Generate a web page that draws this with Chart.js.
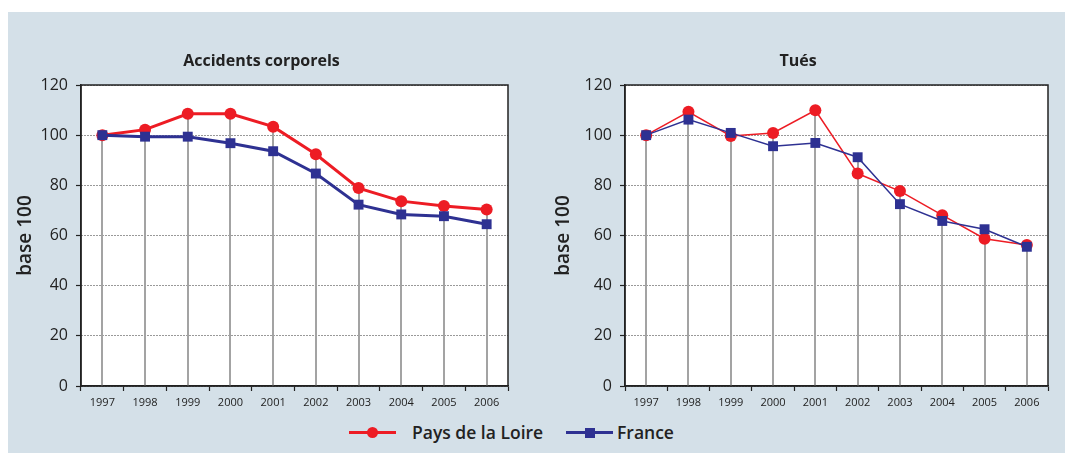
<!DOCTYPE html>
<html><head><meta charset="utf-8">
<script src="https://cdn.jsdelivr.net/npm/chart.js@4/dist/chart.umd.min.js"></script>
<style>
html,body{margin:0;padding:0;background:#fff;width:1065px;height:453px;overflow:hidden;font-family:"Open Sans",sans-serif;}
#bg{position:absolute;left:8px;top:12px;width:1057px;height:441px;background:#d4e0e8;}
#c1{position:absolute;left:0;top:0;}
#c2{position:absolute;left:530px;top:0;}
.leg{position:absolute;top:420px;height:24px;font-size:17.5px;font-weight:600;color:#222;line-height:24px;}
.ln{position:absolute;top:10.5px;height:3px;width:47px;}
.mk{position:absolute;}
</style></head>
<body>
<div id="bg"></div>
<canvas id="c1" width="530" height="420" style="width:530px;height:420px"></canvas>
<canvas id="c2" width="535" height="420" style="width:535px;height:420px"></canvas>
<div class="leg" style="left:349px;width:220px;">
  <div class="ln" style="left:0;background:#ed1c24;"></div>
  <div class="mk" style="left:18px;top:7px;width:11px;height:11px;border-radius:50%;background:#ed1c24;"></div>
  <span style="position:absolute;left:63px;white-space:nowrap;">Pays de la Loire</span>
</div>
<div class="leg" style="left:566px;width:120px;">
  <div class="ln" style="left:0;background:#2e3192;"></div>
  <div class="mk" style="left:19px;top:7.5px;width:10px;height:10px;background:#2e3192;"></div>
  <span style="position:absolute;left:51px;">France</span>
</div>
<script>
const years = ['1997','1998','1999','2000','2001','2002','2003','2004','2005','2006'];
const accidentsPdl = [100, 102.2, 108.5, 108.5, 103.4, 92.4, 78.9, 73.7, 71.8, 70.4];
const accidentsFrance = [100, 99.4, 99.4, 96.8, 93.6, 84.7, 72.3, 68.4, 67.7, 64.5];
const tuesPdl = [100, 109.3, 99.7, 100.9, 109.9, 84.7, 77.7, 68.1, 58.7, 56.2];
const tuesFrance = [100, 106.2, 100.9, 95.6, 96.9, 91.2, 72.5, 65.8, 62.5, 55.5];
const yTicks = [0, 20, 40, 60, 80, 100, 120];
const seriesNames = ['Pays de la Loire', 'France'];

const RED = '#ed1c24', BLUE = '#2e3192', INK = '#222';

const framePlugin = {
  id: 'frame',
  beforeDraw(chart) {
    const a = chart.chartArea, ctx = chart.ctx;
    ctx.save(); ctx.fillStyle = '#fff';
    ctx.fillRect(a.left, a.top, a.right - a.left, a.bottom - a.top);
    ctx.restore();
  },
  beforeDatasetsDraw(chart) {
    const ctx = chart.ctx, a = chart.chartArea;
    const metas = chart.data.datasets.map((d, i) => chart.getDatasetMeta(i));
    ctx.save();
    ctx.strokeStyle = '#a3a3a3'; ctx.lineWidth = 2;
    metas[0].data.forEach((pt, j) => {
      let top = Math.min(...metas.map(m => m.data[j].y));
      ctx.beginPath(); ctx.moveTo(Math.round(pt.x), a.bottom); ctx.lineTo(Math.round(pt.x), top); ctx.stroke();
    });
    ctx.restore();
  },
  afterDraw(chart) {
    const a = chart.chartArea, ctx = chart.ctx;
    ctx.save(); ctx.strokeStyle = INK; ctx.lineWidth = 1.5; ctx.setLineDash([]);
    ctx.beginPath();
    ctx.moveTo(a.left, a.top); ctx.lineTo(a.right, a.top); ctx.lineTo(a.right, a.bottom);
    ctx.moveTo(a.left, a.top); ctx.lineTo(a.left, a.bottom); ctx.lineTo(a.right, a.bottom);
    ctx.stroke(); ctx.restore();
  }
};

function makeChart(id, title, pdl, fr, o) {
  new Chart(document.getElementById(id), {
    type: 'line',
    data: {
      labels: years,
      datasets: [
        { label: seriesNames[1], data: fr, borderColor: BLUE, backgroundColor: BLUE, borderWidth: o.lw,
          pointStyle: 'rect', pointRadius: 7, pointBorderWidth: 0, tension: 0 },
        { label: seriesNames[0], data: pdl, borderColor: RED, backgroundColor: RED, borderWidth: o.lw,
          pointStyle: 'circle', pointRadius: 6, pointBorderWidth: 0, tension: 0 }
      ]
    },
    options: {
      responsive: false, animation: false,
      layout: { padding: { left: o.padL, right: o.padR, top: 0, bottom: 4 } },
      plugins: {
        legend: { display: false }, tooltip: { enabled: false },
        title: { display: true, text: title, color: INK,
          font: { family: 'Open Sans', size: 16, weight: 'bold', lineHeight: 1.2 },
          padding: { top: 52, bottom: 13.8 } }
      },
      scales: {
        x: {
          offset: true,
          grid: { offset: true, drawOnChartArea: false, drawTicks: true, tickLength: 5, tickColor: INK, tickWidth: 1.2, tickBorderDash: [] },
          border: { display: true, color: INK, width: 1.5 },
          ticks: { color: INK, font: { family: 'Open Sans', size: 11 }, padding: 5, maxRotation: 0 },
          afterFit(s) { s.height = 30; }
        },
        y: {
          min: 0, max: 120,
          afterBuildTicks(s) { s.ticks = yTicks.map(v => ({ value: v })); },
          grid: { color: '#333', lineWidth: 1, tickBorderDash: [], tickColor: INK, tickLength: 5, tickWidth: 1.2 },
          border: { display: true, color: INK, width: 1.5, dash: [1, 2] },
          ticks: { color: INK, font: { family: 'Open Sans', size: 16 }, padding: 8 },
          title: { display: true, text: 'base 100', color: INK, font: { family: 'Open Sans', size: 19, weight: '600', lineHeight: 1.1 }, padding: { top: o.yTitlePad, bottom: 0 } },
          afterFit(s) { s.width = o.yw; }
        }
      }
    },
    plugins: [framePlugin]
  });
}

makeChart('c1', 'Accidents corporels', accidentsPdl, accidentsFrance, { lw: 3, padL: 15, padR: 22, yw: 66, yTitlePad: 0 });
makeChart('c2', 'Tués', tuesPdl, tuesFrance, { lw: 1.5, padL: 18, padR: 17, yw: 77, yTitlePad: 5 });
</script>
</body></html>
